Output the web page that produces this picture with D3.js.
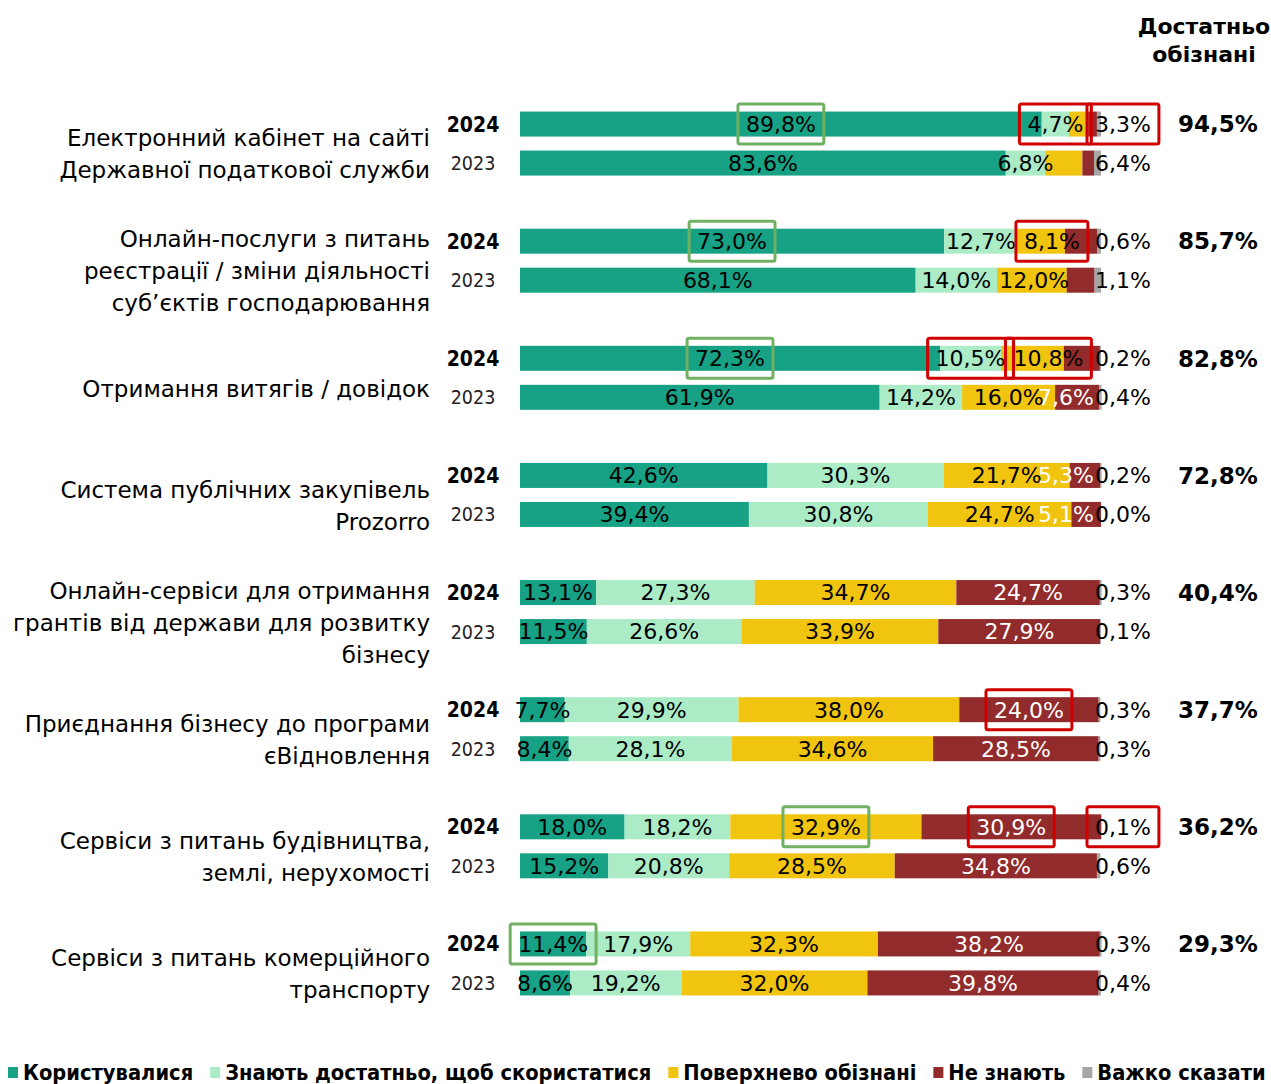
<!DOCTYPE html>
<html>
<head>
<meta charset="utf-8">
<script src="https://cdn.jsdelivr.net/npm/d3@7"></script>
<style>
  body { margin: 0; background: #fff; }
  svg { display: block; }
</style>
</head>
<body>
<svg id="chart" width="1271" height="1084"></svg>
<script>
// categories (label lines)
var categories = [
  ['Електронний кабінет на сайті', 'Державної податкової служби'],
  ['Онлайн-послуги з питань', 'реєстрації / зміни діяльності', 'суб’єктів господарювання'],
  ['Отримання витягів / довідок'],
  ['Система публічних закупівель', 'Prozorro'],
  ['Онлайн-сервіси для отримання', 'грантів від держави для розвитку', 'бізнесу'],
  ['Приєднання бізнесу до програми', 'єВідновлення'],
  ['Сервіси з питань будівництва,', 'землі, нерухомості'],
  ['Сервіси з питань комерційного', 'транспорту']
];
var years = ['2024', '2023'];
var seriesNames = ['Користувалися', 'Знають достатньо, щоб скористатися', 'Поверхнево обізнані', 'Не знають', 'Важко сказати'];
var seriesColors = ['#17a185', '#abebc6', '#f1c40f', '#922b2b', '#a6a6a6'];
var labelColors = ['#000', '#000', '#000', '#fff', '#000'];

var used2024 = [89.8, 73.0, 72.3, 42.6, 13.1, 7.7, 18.0, 11.4];
var used2023 = [83.6, 68.1, 61.9, 39.4, 11.5, 8.4, 15.2, 8.6];
var know2024 = [4.7, 12.7, 10.5, 30.3, 27.3, 29.9, 18.2, 17.9];
var know2023 = [6.8, 14.0, 14.2, 30.8, 26.6, 28.1, 20.8, 19.2];
var surface2024 = [3.3, 8.1, 10.8, 21.7, 34.7, 38.0, 32.9, 32.3];
var surface2023 = [6.4, 12.0, 16.0, 24.7, 33.9, 34.6, 28.5, 32.0];
var notKnow2024 = [1.5, 5.6, 6.2, 5.3, 24.7, 24.0, 30.9, 38.2];
var notKnow2023 = [2.0, 4.8, 7.6, 5.1, 27.9, 28.5, 34.8, 39.8];
var hard2024 = [0.7, 0.6, 0.2, 0.2, 0.3, 0.3, 0.1, 0.3];
var hard2023 = [1.2, 1.1, 0.4, 0.0, 0.1, 0.3, 0.6, 0.4];
var aware2024 = [94.5, 85.7, 82.8, 72.8, 40.4, 37.7, 36.2, 29.3];

// labels not shown in the original (row-year-series)
var hiddenLabels = ['0-2024-3', '0-2024-4', '0-2023-3', '0-2023-4', '1-2024-3', '1-2023-3', '2-2024-3'];
// labels placed after the end of the bar
var outsideLabels = ['0-2024-2', '0-2023-2'];
// highlighted labels
var highlights = [
  {row: 0, year: '2024', series: 0, color: 'green'},
  {row: 0, year: '2024', series: 1, color: 'red'},
  {row: 0, year: '2024', series: 2, color: 'red'},
  {row: 1, year: '2024', series: 0, color: 'green'},
  {row: 1, year: '2024', series: 2, color: 'red'},
  {row: 2, year: '2024', series: 0, color: 'green'},
  {row: 2, year: '2024', series: 1, color: 'red'},
  {row: 2, year: '2024', series: 2, color: 'red'},
  {row: 5, year: '2024', series: 3, color: 'red'},
  {row: 6, year: '2024', series: 2, color: 'green'},
  {row: 6, year: '2024', series: 3, color: 'red'},
  {row: 6, year: '2024', series: 4, color: 'red'},
  {row: 7, year: '2024', series: 0, color: 'green'}
];
var boxColors = {green: '#70b062', red: '#d00000'};

var values = {
  '2024': [used2024, know2024, surface2024, notKnow2024, hard2024],
  '2023': [used2023, know2023, surface2023, notKnow2023, hard2023]
};

var svg = d3.select('#chart');
var fmt = function(v) { return d3.format('.1f')(v).replace('.', ',') + '%'; };

var x = d3.scaleLinear().domain([0, 100]).range([520, 1101]);
var yRow = d3.scaleBand().domain(d3.range(categories.length)).range([85.5, 1022.5]);
var yYear = d3.scaleOrdinal().domain(years).range([-20, 19]);
var barH = 25;

function rowCenter(i) { return yRow(i) + yRow.bandwidth() / 2; }

// build segments
var segments = [];
categories.forEach(function(c, i) {
  years.forEach(function(yr) {
    var acc = 0;
    values[yr].forEach(function(arr, s) {
      segments.push({row: i, year: yr, series: s, value: arr[i], x0: acc, x1: acc + arr[i], key: i + '-' + yr + '-' + s});
      acc += arr[i];
    });
  });
});

var barsG = svg.append('g');
barsG.selectAll('rect')
  .data(segments)
  .join('rect')
  .attr('x', function(d) { return x(d.x0); })
  .attr('width', function(d) { return Math.max(0, x(d.x1) - x(d.x0)); })
  .attr('y', function(d) { return rowCenter(d.row) + yYear(d.year) - barH / 2; })
  .attr('height', barH)
  .attr('fill', function(d) { return seriesColors[d.series]; });

// value labels
var labelsG = svg.append('g')
  .style('font-family', '"DejaVu Sans", sans-serif')
  .style('font-size', '22px');

var labelNodes = {};
var prevEnd = {};
segments.forEach(function(d) {
  if (hiddenLabels.indexOf(d.key) >= 0) return;
  var barKey = d.row + '-' + d.year;
  var outside = d.series === 4 || outsideLabels.indexOf(d.key) >= 0;
  var t = labelsG.append('text')
    .attr('y', rowCenter(d.row) + yYear(d.year))
    .attr('dy', '0.36em')
    .attr('fill', outside ? '#000' : labelColors[d.series])
    .text(fmt(d.value));
  var w = t.node().getComputedTextLength();
  if (outside) {
    t.attr('x', x(100) - 6).attr('text-anchor', 'start');
  } else if (d.series === 3 && w > x(d.x1) - x(d.x0)) {
    // narrow red segment at the bar end: keep the label clear of the outside one
    t.attr('x', x(100) - 7).attr('text-anchor', 'end');
  } else {
    var cx = (x(d.x0) + x(d.x1)) / 2;
    // push right if it runs into the previous label of the same bar
    if (prevEnd[barKey] !== undefined && cx - w / 2 < prevEnd[barKey] + 8) {
      cx = prevEnd[barKey] + 8 + w / 2;
    }
    t.attr('x', cx).attr('text-anchor', 'middle');
    prevEnd[barKey] = cx + w / 2;
  }
  labelNodes[d.key] = t;
});

// highlight boxes
var boxG = svg.append('g');
highlights.forEach(function(h) {
  var t = labelNodes[h.row + '-' + h.year + '-' + h.series];
  if (!t) return;
  var bb = t.node().getBBox();
  var cy = rowCenter(h.row) + yYear(h.year);
  boxG.append('rect')
    .attr('x', bb.x - 8)
    .attr('y', cy - 20)
    .attr('width', bb.width + 16)
    .attr('height', 40)
    .attr('fill', 'none')
    .attr('stroke', boxColors[h.color])
    .attr('stroke-width', 3)
    .attr('rx', 2);
});

// year labels
var yearG = svg.append('g').style('font-family', '"DejaVu Sans Condensed", sans-serif');
categories.forEach(function(c, i) {
  years.forEach(function(yr) {
    yearG.append('text')
      .attr('x', 473)
      .attr('y', rowCenter(i) + yYear(yr))
      .attr('dy', '0.36em')
      .attr('text-anchor', 'middle')
      .style('font-size', yr === '2024' ? '21px' : '19.5px')
      .style('font-weight', yr === '2024' ? 'bold' : 'normal')
      .attr('fill', yr === '2024' ? '#000' : '#222')
      .text(yr);
  });
});

// category labels
var catG = svg.append('g')
  .style('font-family', '"DejaVu Sans", sans-serif')
  .style('font-size', '23px');
categories.forEach(function(lines, i) {
  var cy = rowCenter(i) + 10;
  lines.forEach(function(line, j) {
    catG.append('text')
      .attr('x', 430)
      .attr('y', cy + (j - (lines.length - 1) / 2) * 32)
      .attr('dy', '0.36em')
      .attr('text-anchor', 'end')
      .attr('fill', '#000')
      .text(line);
  });
});

// totals column
var totG = svg.append('g')
  .style('font-family', '"DejaVu Sans", sans-serif')
  .style('font-weight', 'bold');
totG.selectAll('text.total')
  .data(aware2024)
  .join('text')
  .attr('class', 'total')
  .attr('x', 1178)
  .attr('y', function(d, i) { return rowCenter(i) + yYear('2024'); })
  .attr('dy', '0.36em')
  .style('font-size', '23px')
  .text(fmt);
['Достатньо', 'обізнані'].forEach(function(line, j) {
  totG.append('text')
    .attr('x', 1204)
    .attr('y', 26 + j * 28)
    .attr('dy', '0.36em')
    .attr('text-anchor', 'middle')
    .style('font-size', '22px')
    .text(line);
});

// legend
var legG = svg.append('g')
  .style('font-family', '"DejaVu Sans Condensed", sans-serif')
  .style('font-weight', 'bold')
  .style('font-size', '21.7px');
var lx = 8;
seriesNames.forEach(function(name, s) {
  legG.append('rect')
    .attr('x', lx).attr('y', 1067)
    .attr('width', 10).attr('height', 11)
    .attr('fill', seriesColors[s]);
  var t = legG.append('text')
    .attr('x', lx + 15).attr('y', 1080)
    .attr('fill', '#000')
    .text(name);
  lx += 15 + t.node().getComputedTextLength() + 17;
});
</script>
</body>
</html>
